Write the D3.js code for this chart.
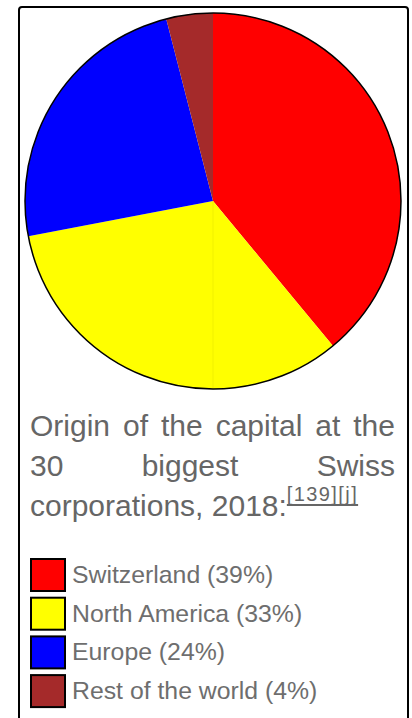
<!DOCTYPE html>
<html>
<head>
<meta charset="utf-8">
<script src="https://cdn.jsdelivr.net/npm/d3@7"></script>
<style>
  body { margin: 0; background: #fff; font-family: "Liberation Sans", Arial, sans-serif; }
  #chart { position: absolute; left: 0; top: 0; }
  #caption {
    position: absolute; left: 30px; top: 406px; width: 365px;
    font-size: 30px; line-height: 40px; color: #666; text-align: justify;
  }
  #caption sup {
    font-size: 20px; letter-spacing: 1.4px; text-decoration: underline;
    text-decoration-thickness: 2px; text-underline-offset: 3px;
    text-decoration-skip-ink: none;
    vertical-align: 0; position: relative; top: -15px; line-height: 0;
  }
</style>
</head>
<body>
<svg id="chart" width="412" height="718"></svg>
<div id="caption"></div>
<script>
// data
const regions = ['Switzerland', 'North America', 'Europe', 'Rest of the world'];
const shares = [39, 33, 24, 4];
const colors = ['#ff0000', '#ffff00', '#0000ff', '#a52a2a'];
const captionText = 'Origin of the capital at the 30 biggest Swiss corporations, 2018:';
const refs = '[139][j]';

const svg = d3.select('#chart');

// frame
svg.append('rect')
    .attr('x', 19).attr('y', 7)
    .attr('width', 389).attr('height', 730)
    .attr('rx', 3)
    .attr('fill', 'none')
    .attr('stroke', '#000')
    .attr('stroke-width', 2);

// pie
const cx = 213, cy = 201, r = 188;
const pie = d3.pie().sort(null).value(d => d.value);
const arc = d3.arc().innerRadius(0).outerRadius(r);
const data = regions.map((name, i) => ({name: name, value: shares[i], color: colors[i]}));

const g = svg.append('g').attr('transform', `translate(${cx},${cy})`);
g.selectAll('.slice')
    .data(pie(data))
    .enter()
    .append('path')
    .attr('class', 'slice')
    .attr('d', arc)
    .attr('fill', d => d.data.color);

// faint seam in the yellow slice (straight down from centre)
g.append('line')
    .attr('x1', 0).attr('y1', 0)
    .attr('x2', 0).attr('y2', r)
    .attr('stroke', '#e6e600')
    .attr('stroke-opacity', 0.5)
    .attr('stroke-width', 1);

g.append('circle')
    .attr('r', r)
    .attr('fill', 'none')
    .attr('stroke', '#000')
    .attr('stroke-width', 1.5);

// caption
const cap = d3.select('#caption');
cap.append('span').text(captionText);
cap.append('sup').text(refs);

// legend
const rowY = d3.scaleLinear().domain([0, 1]).range([558, 596.7]);
const legend = svg.selectAll('.legend')
    .data(data)
    .enter()
    .append('g')
    .attr('class', 'legend')
    .attr('transform', (d, i) => `translate(0,${rowY(i)})`);

legend.append('rect')
    .attr('x', 31).attr('y', 1)
    .attr('width', 34).attr('height', 32)
    .attr('fill', d => d.color)
    .attr('stroke', '#000')
    .attr('stroke-width', 2);

legend.append('text')
    .attr('x', 72)
    .attr('y', 25)
    .attr('font-size', '24.8px')
    .attr('fill', '#6e6e6e')
    .text(d => `${d.name} (${d.value}%)`);
</script>
</body>
</html>
